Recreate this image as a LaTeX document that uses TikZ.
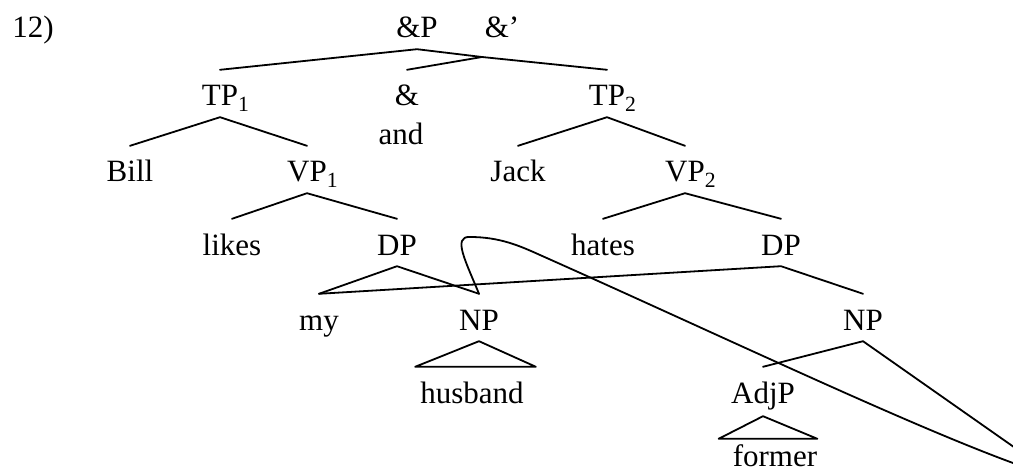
\documentclass[tikz,border=0pt]{standalone}
\usepackage{fontspec}
\setmainfont{Liberation Serif}
\usetikzlibrary{calc}

\begin{document}
\begin{tikzpicture}[x=1pt, y=-1pt,
                line cap=round, line join=round,
                cat/.style={anchor=base, inner xsep=0pt, inner ysep=11pt,
                            text height=25pt, text depth=0pt,
                            font=\fontsize{31}{37}\selectfont},
                branch/.style={black, line width=1.8pt}]
                \def\rA{38}  % baselines of the rows
                \def\rB{106}
                \def\rC{182}
                \def\rD{255}
                \def\rE{330}
                \def\rF{403}
                \def\rG{466}
                \useasboundingbox (0,0) rectangle (1013,476);

                % labels
                \node[cat] (num)   at (33,\rA)  {12)};
                \node[cat] (AP)    at (417,\rA) {\&P};
                \node[cat] (Abar)  at (502,\rA) {\&'};
                \node[cat] (TPa)   at (220,\rB) {TP\rlap{\textsubscript{1}}};
                \node[cat] (Aconj) at (407,\rB) {\&};
                \node[cat] (TPb)   at (607,\rB) {TP\rlap{\textsubscript{2}}};
                \node[cat] (and)   at (401,145) {and};
                \node[cat] (Bill)  at (130,\rC) {Bill};
                \node[cat] (VPa)   at (307,\rC) {VP\rlap{\textsubscript{1}}};
                \node[cat] (Jack)  at (518,\rC) {Jack};
                \node[cat] (VPb)   at (685,\rC) {VP\rlap{\textsubscript{2}}};
                \node[cat] (likes) at (232,\rD) {likes};
                \node[cat] (DPa)   at (397,\rD) {DP};
                \node[cat] (hates) at (603,\rD) {hates};
                \node[cat] (DPb)   at (781,\rD) {DP};
                \node[cat] (my)    at (319,\rE) {my};
                \node[cat] (NPa)   at (479,\rE) {NP};
                \node[cat] (NPb)   at (863,\rE) {NP};
                \node[cat] (hus)   at (472,\rF) {husband};
                \node[cat] (AdjP)  at (763,\rF) {AdjP};
                \node[cat, inner ysep=2pt] (former) at (775,\rG) {former};

                \coordinate (j) at (482,57);     % where & joins &'
                \coordinate (hub) at (1058,478); % shared daughter, off the page

                % branches
                \draw[branch] (TPa.north) -- (AP.south) -- (j) -- (TPb.north);
                \draw[branch] (Aconj.north) -- (j);
                \draw[branch] (Bill.north) -- (TPa.south) -- (VPa.north);
                \draw[branch] (Jack.north) -- (TPb.south) -- (VPb.north);
                \draw[branch] (likes.north) -- (VPa.south) -- (DPa.north);
                \draw[branch] (hates.north) -- (VPb.south) -- (DPb.north);
                \draw[branch] (my.north) -- (DPa.south) -- (NPa.north);
                \draw[branch] (my.north) -- (DPb.south) -- (NPb.north);
                \draw[branch] (AdjP.north) -- (NPb.south) -- (hub);

                % triangles
                \draw[branch] (NPa.south) -- ([xshift=-5pt]hus.north west)
                    -- ([xshift=12pt]hus.north east) -- cycle;
                \draw[branch] ([yshift=-2pt]AdjP.south) -- ([xshift=-14pt]former.north west)
                    -- (former.north east) -- cycle;

                % NP shared with the second DP
                \draw[branch] (NPa.north) .. controls (466,262) and (452,236) .. (470,237)
                    .. controls (500,237) and (520,246) .. (540,255)
                    .. controls (740,344) and (960,450) .. (hub);
\end{tikzpicture}
\end{document}
